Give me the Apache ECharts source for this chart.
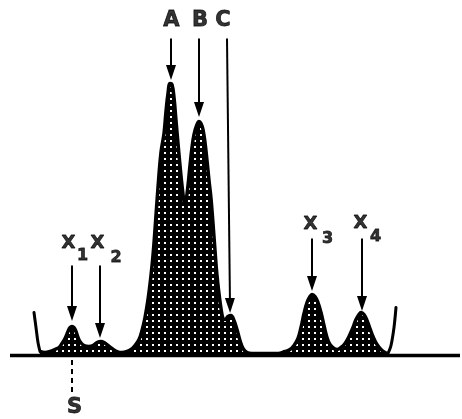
<!DOCTYPE html>
<html><head><meta charset="utf-8">
<script src="https://cdn.jsdelivr.net/npm/echarts@6/dist/echarts.min.js"></script>
<style>html,body{margin:0;padding:0;background:#fff}#c{width:462px;height:419px}</style>
</head><body><div id="c"></div>
<script>
// Densitometer trace: position along the strip and density (height above baseline)
const tracePos = [40,45,50,55,59,62,65,68,70,72,74,76,78,80,84,89,93,97,101,104,108,112,117,122,127,131,135,139,142,145,148,151,153,155,158,161,164,166,168,170,172,174,176,178,180,182,184,185,186,188,190,192,194,197,199,201,203,205,207,209,211,213,215,217,219,221,223,225,228,231,234,237,240,243,247,252,265,278,285,290,294,298,301,304,307,310,312,315,318,321,324,327,330,334,337,341,345,349,353,356,359,361,364,367,370,373,377,381,385,388];
const traceDensity = [4,3,4,6,8,12,17,24,28,29,28,24,18,14,10,9,10,13,14,13,10,7,4,3,4,6,10,16,25,38,56,80,100,126,168,203,222,244,262,272,271,258,235,212,190,170,154,151,154,170,190,208,221,231,234,232,226,213,195,175,157,132,105,80,62,47,37,36,39,40,35,26,15,7,3,2,2,2,4,6,10,17,28,42,53,59,61,59,53,43,30,18,11,7,6,8,12,19,28,36,41,43,41,35,27,19,11,6,3,2];
const leftTailPos = [34,36,38,40];
const leftTailDensity = [43,28,13,4];
const rightTailPos = [388,391,394,396];
const rightTailDensity = [2,10,28,48];
const baselinePos = [10,460];

// Peak annotations: label, arrow x at top, arrow x at tip, arrow top, arrow tip
const arrowLabels = ['A','B','C','X1','X2','X3','X4'];
const arrowTopPos = [171,199,227,72,100,312,362];
const arrowTipPos = [171,199,230,72,100,312,362];
const arrowTopDensity = [317,317,317,90,90,117,117];
const arrowTipDensity = [283,246,50,42,25,72,52];

// Text labels
const labelText = ['A','B','C','X','1','X','2','X','3','X','4'];
const labelPos = [171.5,200,223,68.5,82.5,97.5,116,310.5,327.5,360.5,375.5];
const labelDensity = [335,335,335,112,99.5,112,98,131,116.5,132,119];
const labelIsSub = [0,0,0,0,1,0,1,0,1,0,1];

// Start marker S
const startPos = 72;
const startLineDensity = [-4.5,-37.5];
const startLabelPos = 74.5;
const startLabelDensity = -52;

function dotPattern(){
  const c=document.createElement('canvas'); c.width=6; c.height=6;
  const g=c.getContext('2d'); g.fillStyle='#000'; g.fillRect(0,0,6,6);
  g.fillStyle='#fff'; g.fillRect(2,2,2,2);
  return c;
}

const chart = echarts.init(document.getElementById('c'), null, {renderer:'canvas'});
const zip = (a,b)=>a.map((v,i)=>[v,b[i]]);
const font = 'DejaVu Sans, Arial, sans-serif';

const labelData = labelText.map((t,i)=>({value:[labelPos[i],labelDensity[i]], name:t,
  label:{fontSize: labelIsSub[i]?16:(i<3?21:18)}}));
labelData.push({value:[startLabelPos,startLabelDensity], name:'S', label:{fontSize:21}});

const arrowLines = arrowLabels.map((n,i)=>[
  {coord:[arrowTopPos[i],arrowTopDensity[i]], symbol:'none'},
  {coord:[arrowTipPos[i],arrowTipDensity[i]], symbol:'triangle', symbolSize:[10,15]}
]);

chart.setOption({
  animation:false,
  backgroundColor:'#fff',
  grid:{left:0,right:0,top:0,bottom:0},
  xAxis:{type:'value',min:0,max:462,show:false},
  yAxis:{type:'value',min:-63.5,max:355.5,show:false},
  series:[
    {type:'line', data:zip(tracePos,traceDensity), smooth:0.4, symbol:'none',
     lineStyle:{color:'#000',width:3.5,join:'round'},
     areaStyle:{color:{image:dotPattern(),repeat:'repeat'},opacity:1,origin:0}, z:3},
    {type:'line', data:zip(leftTailPos,leftTailDensity), smooth:0.3, symbol:'none',
     lineStyle:{color:'#000',width:3,cap:'round'}, z:3},
    {type:'line', data:zip(rightTailPos,rightTailDensity), smooth:0.3, symbol:'none',
     lineStyle:{color:'#000',width:3,cap:'round'}, z:3},
    {type:'line', data:baselinePos.map(x=>[x,0]), symbol:'none',
     lineStyle:{color:'#000',width:3.5}, z:4,
     markLine:{silent:true, symbol:['none','triangle'], symbolSize:14,
       itemStyle:{color:'#000'},
       label:{show:false}, lineStyle:{color:'#000',width:2,type:'solid'},
       data: arrowLines.concat([[
         {coord:[startPos,startLineDensity[0]],symbol:'none'},
         {coord:[startPos,startLineDensity[1]],symbol:'none',lineStyle:{type:[5,4],width:2}}
       ]])}},
    {type:'scatter', data:labelData, symbolSize:0, z:5,
     label:{show:true, position:'inside', formatter:p=>p.name, color:'#000',
       fontFamily:font, fontWeight:'bold', textBorderColor:'#000', textBorderWidth:0.8}}
  ]
});
</script></body></html>
